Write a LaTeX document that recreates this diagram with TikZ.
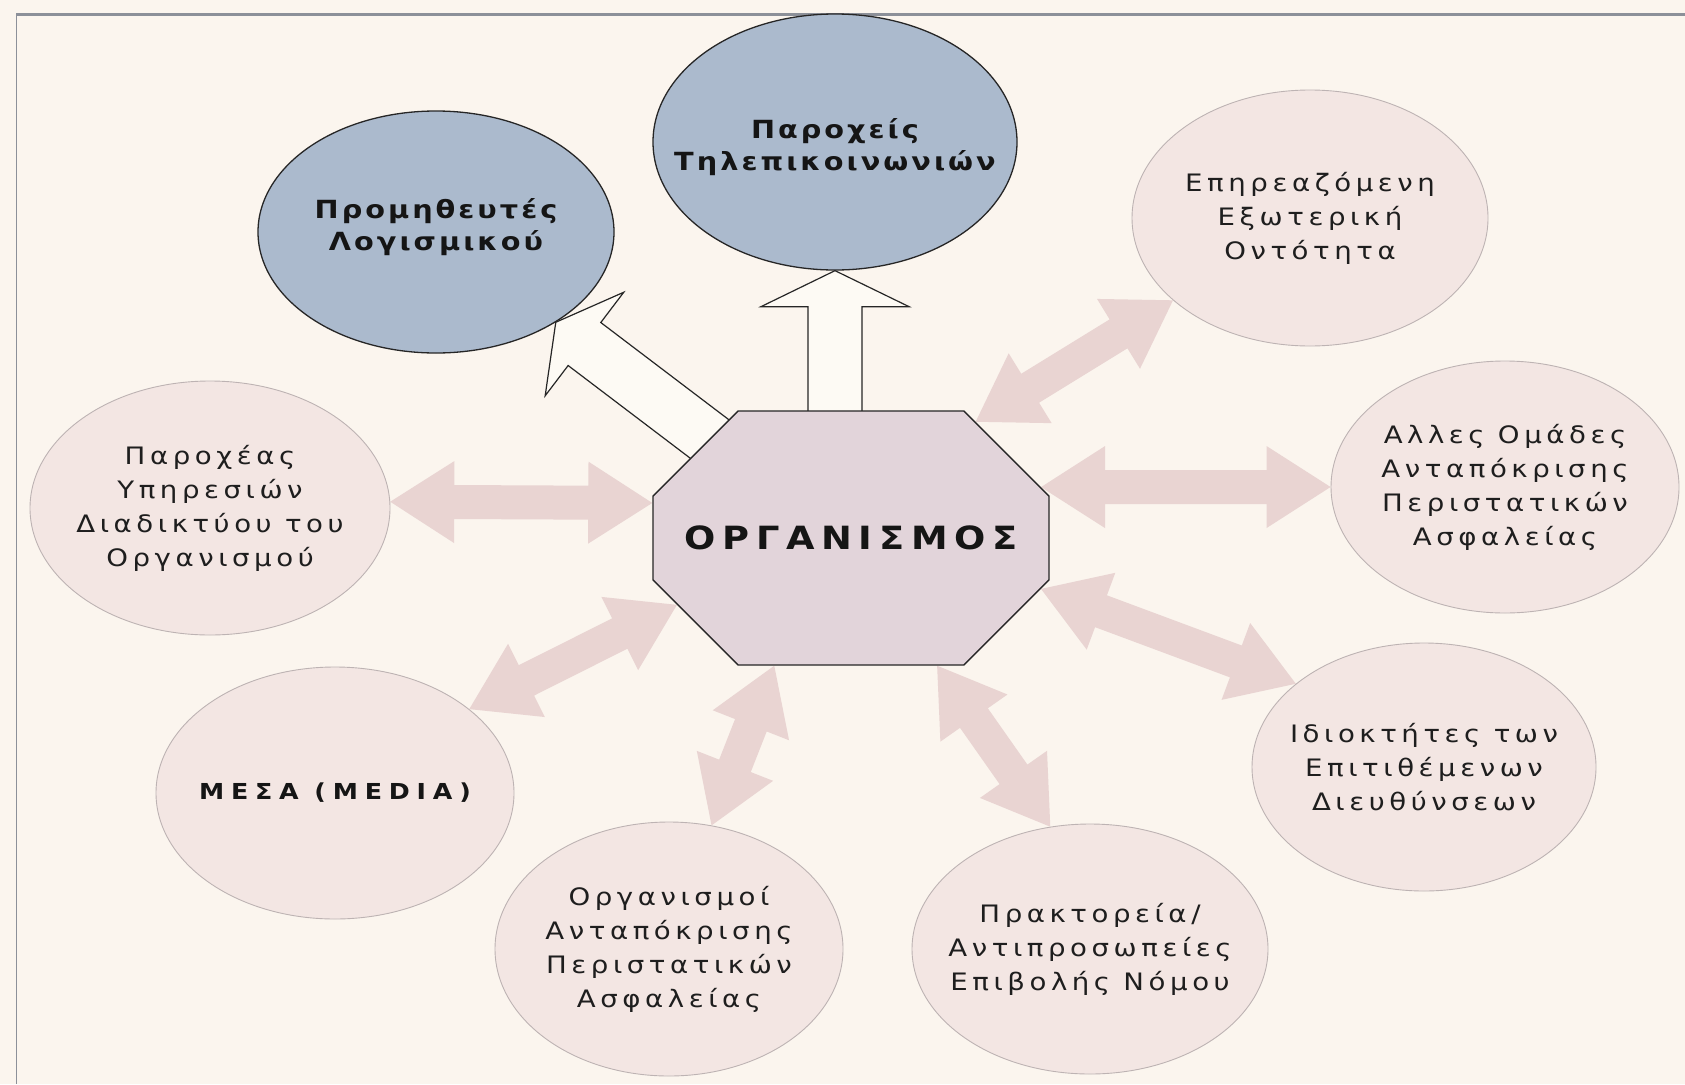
\documentclass[tikz,border=0pt]{standalone}
\usepackage{fontspec}
\setmainfont{DejaVu Sans}
\usetikzlibrary{calc,shapes.geometric,shapes.misc}

\definecolor{paper}{HTML}{FBF5EE}
\definecolor{bluefill}{HTML}{ABBACD}
\definecolor{pinkfill}{HTML}{F3E6E3}
\definecolor{arrowpink}{HTML}{E9D4D2}
\definecolor{octfill}{HTML}{E2D4DA}
\definecolor{whitearrow}{HTML}{FDFAF4}
\definecolor{edgedark}{HTML}{262626}
\definecolor{edgelight}{HTML}{BDB3B3}
\definecolor{txtdark}{HTML}{151515}
\definecolor{txtgray}{HTML}{1E1E1E}
\definecolor{framegray}{HTML}{8C9099}

\pgfdeclarelayer{bg}
\pgfdeclarelayer{arrows}
\pgfsetlayers{bg,arrows,main}

% pink double-headed block arrow between two named points
\def\phl{64pt}\def\phw{41pt}\def\psw{17pt}
\newcommand{\dblarrow}[2]{%
  \coordinate (da) at (#1);
  \coordinate (db) at (#2);
  \coordinate (ha) at ($(da)!\phl!(db)$);
  \coordinate (hb) at ($(db)!\phl!(da)$);
  \fill[arrowpink] (da) -- ($(ha)!\phw!90:(db)$) -- ($(ha)!\psw!90:(db)$)
    -- ($(hb)!\psw!-90:(da)$) -- ($(hb)!\phw!-90:(da)$) -- (db)
    -- ($(hb)!\phw!90:(da)$) -- ($(hb)!\psw!90:(da)$)
    -- ($(ha)!\psw!-90:(db)$) -- ($(ha)!\phw!-90:(db)$) -- cycle;
}
% outlined single-headed block arrow; its base is tucked under the start node
% #1 half head width, #2 start, #3 end
\def\whl{36pt}\def\wsw{27pt}
\newcommand{\onearrow}[3]{%
  \coordinate (wb) at (#3);
  \coordinate (wa) at ($(#2)!-14pt!(wb)$);
  \coordinate (wh) at ($(wb)!\whl!(wa)$);
  \filldraw[fill=whitearrow, draw=edgedark, line width=1.2pt, line join=miter]
    ($(wa)!\wsw!90:(wb)$) -- ($(wh)!\wsw!90:(wb)$) -- ($(wh)!#1!90:(wb)$)
    -- (wb) -- ($(wh)!#1!-90:(wb)$) -- ($(wh)!\wsw!-90:(wb)$)
    -- ($(wa)!\wsw!-90:(wb)$) -- cycle;
}

\begin{document}
\begin{tikzpicture}[x=1pt,y=-1pt,
  every node/.style={inner sep=0pt},
  ell/.style={ellipse, inner sep=0pt},
  blueell/.style={ell, fill=bluefill, draw=edgedark, line width=1.3pt},
  pinkell/.style={ell, fill=pinkfill, draw=edgelight, line width=0.9pt},
  pinktext/.style={align=center, text=txtgray,
    font=\fontsize{24}{34}\selectfont\addfontfeatures{FakeStretch=1.15,LetterSpace=19}},
  boldtext/.style={align=center, text=txtdark,
    font=\fontsize{25}{32}\selectfont\bfseries\addfontfeatures{FakeStretch=1.15,LetterSpace=12}},
  mediatext/.style={align=center, text=txtdark,
    font=\fontsize{22}{30}\selectfont\bfseries\addfontfeatures{FakeStretch=1.15,LetterSpace=31}},
  octagon/.style={chamfered rectangle,
    chamfered rectangle xsep=116pt, chamfered rectangle ysep=73pt,
    minimum width=396pt, minimum height=254pt,
    fill=octfill, draw=edgedark, line width=1.4pt, text=txtdark,
    font=\fontsize{32}{36}\selectfont\bfseries\addfontfeatures{FakeStretch=1.15,LetterSpace=21}}]

\useasboundingbox (0,0) rectangle (1685,1084);

\begin{pgfonlayer}{bg}
  \fill[paper] (0,0) rectangle (1685,1084);
  \draw[framegray, line width=3pt] (16,14) -- (1685,14);
  \draw[framegray, line width=1pt] (16,14) -- (16,1084);
\end{pgfonlayer}

% outer entities
\node[blueell, minimum width=356pt, minimum height=242pt] (sw) at (436,232) {};
\node[blueell, minimum width=364pt, minimum height=256pt] (tel) at (835,142) {};
\node[pinkell, minimum width=356pt, minimum height=256pt] (ext) at (1310,218) {};
\node[pinkell, minimum width=348pt, minimum height=252pt] (csirt) at (1505,487) {};
\node[pinkell, minimum width=344pt, minimum height=248pt] (own) at (1424,767) {};
\node[pinkell, minimum width=356pt, minimum height=250pt] (law) at (1090,949) {};
\node[pinkell, minimum width=348pt, minimum height=254pt] (resp) at (669,949) {};
\node[pinkell, minimum width=358pt, minimum height=252pt] (media) at (335,793) {};
\node[pinkell, minimum width=360pt, minimum height=254pt] (isp) at (210,508) {};

\node[boldtext] (sw-t) at ([yshift=5pt]sw.center) {Προμηθευτές\\Λογισμικού};
\node[boldtext] (tel-t) at ([yshift=-5pt]tel.center) {Παροχείς\\Τηλεπικοινωνιών};
\node[pinktext] (ext-t) at (ext) {Επηρεαζόμενη\\Εξωτερική\\Οντότητα};
\node[pinktext] (csirt-t) at (csirt) {Αλλες Ομάδες\\Ανταπόκρισης\\Περιστατικών\\Ασφαλείας};
\node[pinktext] (own-t) at (own) {Ιδιοκτήτες των\\Επιτιθέμενων\\Διευθύνσεων};
\node[pinktext] (law-t) at (law) {Πρακτορεία/\\Αντιπροσωπείες\\Επιβολής Νόμου};
\node[pinktext] (resp-t) at (resp) {Οργανισμοί\\Ανταπόκρισης\\Περιστατικών\\Ασφαλείας};
\node[mediatext] (media-t) at (media) {ΜΕΣΑ (MEDIA)};
\node[pinktext] (isp-t) at (isp) {Παροχέας\\Υπηρεσιών\\Διαδικτύου του\\Οργανισμού};

% the organisation in the middle
\node[octagon] (org) at (851,538) {ΟΡΓΑΝΙΣΜΟΣ};

\begin{pgfonlayer}{arrows}
  \onearrow{74pt}{org.north -| tel.south}{tel.south}
  \onearrow{65pt}{org.145}{sw.-37}
  \dblarrow{org.43}{ext.-149}
  \dblarrow{org.15}{csirt.west}
  \dblarrow{org.-15}{own.147}
  \dblarrow{org.-56}{law.108}
  \dblarrow{org.-121}{resp.71}
  \dblarrow{org.-159}{media.32}
  \dblarrow{isp.2}{org.170}
\end{pgfonlayer}
\end{tikzpicture}
\end{document}
